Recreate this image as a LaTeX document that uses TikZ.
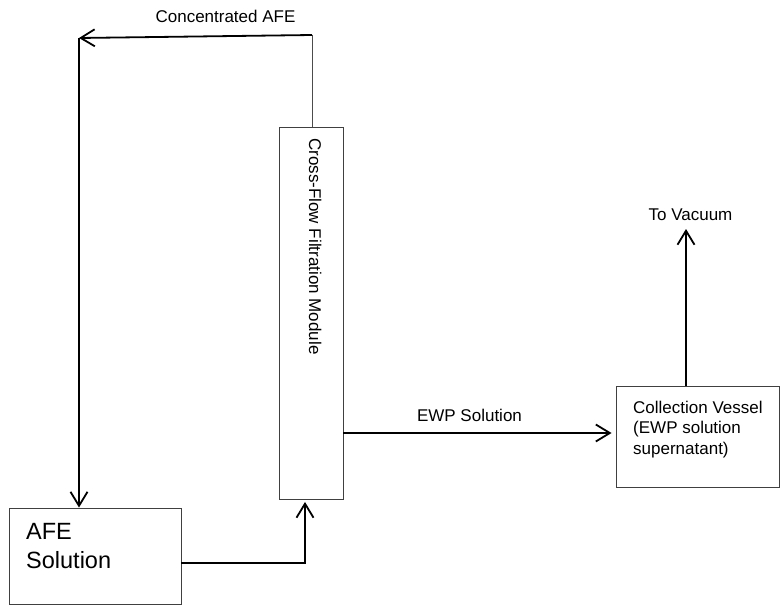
\documentclass[tikz,border=0pt]{standalone}
\usepackage{fontspec}
\setmainfont{Liberation Sans}
\usetikzlibrary{arrows.meta}

\begin{document}
\begin{tikzpicture}[x=1pt, y=-1pt,
		box/.style={rectangle, draw=black!75, line width=0.9pt, inner sep=0pt},
		txt/.style={inner sep=0pt, font=\fontsize{17}{20.6}\selectfont, align=left},
		arrow/.style={-{Straight Barb[length=14pt, width=17pt, line width=1.8pt]}, line width=1.8pt},
		thinline/.style={draw=black!70, line width=0.9pt}
	]
		\useasboundingbox (0,0) rectangle (782,605);

		% Boxes
		\node[box, minimum width=172pt, minimum height=96pt] (afe) at (95,556) {};
		\node[box, minimum width=64pt, minimum height=372pt] (module) at (311,313) {};
		\node[box, minimum width=163pt, minimum height=101pt] (vessel) at (697.5,436.5) {};

		% Box texts
		\node[txt, anchor=base west, font=\fontsize{23.5}{29}\selectfont] (afetext) at (26,568) {AFE\\Solution};
		\node[txt, rotate=-90, anchor=base west] (moduletext) at (309,138) {Cross-Flow Filtration Module};
		\node[txt, anchor=base west] (vesseltext) at (633,454.2) {Collection Vessel\\(EWP solution\\supernatant)};

		% Arrows
		\coordinate (topright) at (312,35);
		\coordinate (topleft) at (79,38);
		\coordinate (feed) at (305,563);
		\coordinate (ewp) at (0,433);
		\coordinate (vac) at (686,229);
		\draw[thinline] (module.north -| topright) -- (topright);
		\draw[arrow] (topright) -- (topleft);
		\draw[arrow] (topleft) -- (topleft |- afe.north);
		\draw[arrow, shorten >=2.5pt] (feed -| afe.east) -- (feed) -- (feed |- module.south);
		\draw[arrow, shorten >=4pt] (module.east |- ewp) -- (vessel.west |- ewp);
		\draw[arrow] (vessel.north -| vac) -- (vac);

		% Labels
		\node[txt, anchor=base] (conclabel) at (225.5,23) {Concentrated AFE};
		\node[txt, anchor=base] (ewplabel) at (469.5,421) {EWP Solution};
		\node[txt, anchor=base] (vaclabel) at (690.5,220) {To Vacuum};
	\end{tikzpicture}
\end{document}
